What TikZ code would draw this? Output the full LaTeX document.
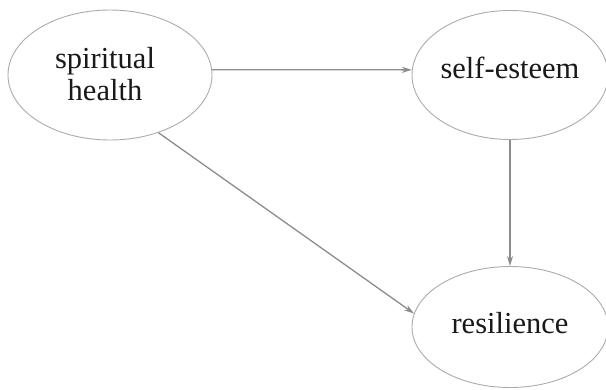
\documentclass[tikz,border=0pt]{standalone}
\usepackage{fontspec}
\setmainfont{Liberation Serif}
\usetikzlibrary{shapes.geometric,arrows.meta}
\begin{document}
\begin{tikzpicture}[x=1pt,y=-1pt,
  oval/.style={ellipse, draw=black!33, line width=0.9pt, inner sep=0pt},
  lbl/.style={anchor=base, font=\fontsize{30.5}{32}\selectfont, inner sep=0pt, text=black!90},
  link/.style={draw=black!45, line width=1.3pt, -{Stealth[open,length=10pt,width=6pt]}}]
\useasboundingbox (0,0) rectangle (606,389);
\node[oval, minimum width=204pt, minimum height=130pt] (sp) at (110,75) {};
\node[oval, minimum width=196pt, minimum height=129pt] (se) at (510,75) {};
\node[oval, minimum width=196pt, minimum height=121pt] (re) at (510,327) {};
\node[lbl] (spt1) at (105,68) {spiritual};
\node[lbl] (spt2) at (105,100) {health};
\node[lbl] (set) at (510,78) {self-esteem};
\node[lbl] (ret) at (510,333) {resilience};
\draw[link] (sp.3) -- (se.177);
\draw[link] (sp.-50) -- (re.172);
\draw[link] (se.south) -- (re.north);
\end{tikzpicture}
\end{document}
